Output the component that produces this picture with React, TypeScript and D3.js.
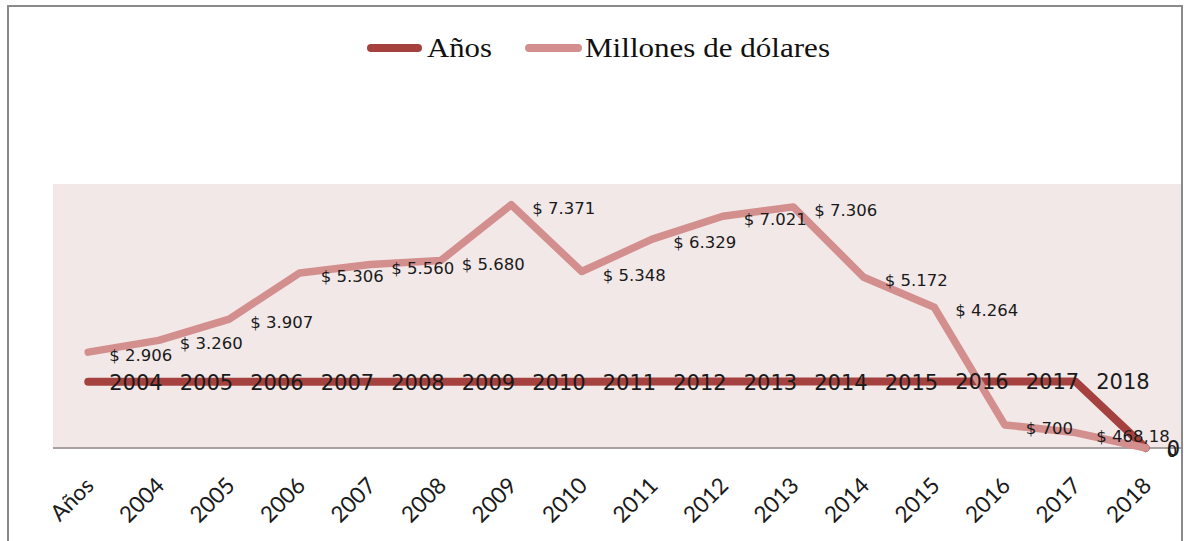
import React from "react";
import * as d3 from "d3";

const categories = ["Años", "2004", "2005", "2006", "2007", "2008", "2009", "2010", "2011", "2012", "2013", "2014", "2015", "2016", "2017", "2018"];
const aniosValues = [2004, 2005, 2006, 2007, 2008, 2009, 2010, 2011, 2012, 2013, 2014, 2015, 2016, 2017, 2018, 0];
const aniosLabels = ["2004", "2005", "2006", "2007", "2008", "2009", "2010", "2011", "2012", "2013", "2014", "2015", "2016", "2017", "2018", "0"];
const millonesValues = [2906, 3260, 3907, 5306, 5560, 5680, 7371, 5348, 6329, 7021, 7306, 5172, 4264, 700, 468.18, 0];
const millonesLabels = ["$ 2.906", "$ 3.260", "$ 3.907", "$ 5.306", "$ 5.560", "$ 5.680", "$ 7.371", "$ 5.348", "$ 6.329", "$ 7.021", "$ 7.306", "$ 5.172", "$ 4.264", "$ 700", "$ 468,18", "0"];
const seriesNames = ["Años", "Millones de dólares"];
const yDomain = [0, 8000];

const W = 1184;
const H = 541;
const DARK = "#A5423F";
const PINK = "#D38E8E";
const PLOT_BG = "#F2E8E8";

export default function App() {
  const x = d3.scaleBand<string>().domain(categories).range([53, 1181]).padding(0);
  const y = d3.scaleLinear().domain(yDomain).range([448, 184]);
  const cx = (i: number) => (x(categories[i]) as number) + x.bandwidth() / 2;
  const line = d3
    .line<number>()
    .x((_, i) => cx(i))
    .y((d) => y(d));

  return (
    <svg width={W} height={H} style={{ position: "absolute", left: 0, top: 0, background: "#fff" }}>
      <rect x={8} y={6} width={1174} height={560} fill="#fff" stroke="#8a8a8a" strokeWidth={2} />
      {/* plot area */}
      <rect x={53} y={184} width={1128} height={264} fill={PLOT_BG} />
      <line x1={53} x2={1181} y1={448} y2={448} stroke="#a9a1a1" strokeWidth={2} />

      {/* category labels */}
      {categories.map((c, i) => {
        const ax = cx(i) + 7;
        const ay = 487;
        return (
          <text
            key={"cat" + i}
            x={ax}
            y={ay}
            transform={`rotate(-45 ${ax} ${ay})`}
            textAnchor="end"
            fontFamily="Lato, 'Open Sans', sans-serif"
            fontSize={22.5}
            fill="#1a1a1a"
          >
            {c}
          </text>
        );
      })}

      {/* lines */}
      <path d={line(aniosValues) || ""} fill="none" stroke={DARK} strokeWidth={8} strokeLinejoin="round" strokeLinecap="round" />
      <path d={line(millonesValues) || ""} fill="none" stroke={PINK} strokeWidth={7.5} strokeLinejoin="round" strokeLinecap="round" />

      {/* data labels */}
      {aniosValues.map((v, i) => (
        <text
          key={"al" + i}
          x={cx(i) + 21}
          y={y(v) + 8}
          fontFamily="'DejaVu Sans', Verdana, sans-serif"
          fontSize={21}
          fill="#1a1a1a"
        >
          {aniosLabels[i]}
        </text>
      ))}
      {millonesValues.map((v, i) => (
        <text
          key={"ml" + i}
          x={cx(i) + 21}
          y={y(v) + 9}
          fontFamily="'DejaVu Sans', Verdana, sans-serif"
          fontSize={16.5}
          fill="#1a1a1a"
        >
          {millonesLabels[i]}
        </text>
      ))}

      {/* legend */}
      <line x1={371} x2={418} y1={48} y2={48} stroke={DARK} strokeWidth={8} strokeLinecap="round" />
      <text x={427} y={57} fontFamily="'Liberation Serif', 'Times New Roman', serif" fontSize={28} textLength={65} lengthAdjust="spacingAndGlyphs" fill="#111">
        {seriesNames[0]}
      </text>
      <line x1={529} x2={578} y1={48} y2={48} stroke={PINK} strokeWidth={8} strokeLinecap="round" />
      <text x={585} y={57} fontFamily="'Liberation Serif', 'Times New Roman', serif" fontSize={28} textLength={245} lengthAdjust="spacingAndGlyphs" fill="#111">
        {seriesNames[1]}
      </text>
    </svg>
  );
}
